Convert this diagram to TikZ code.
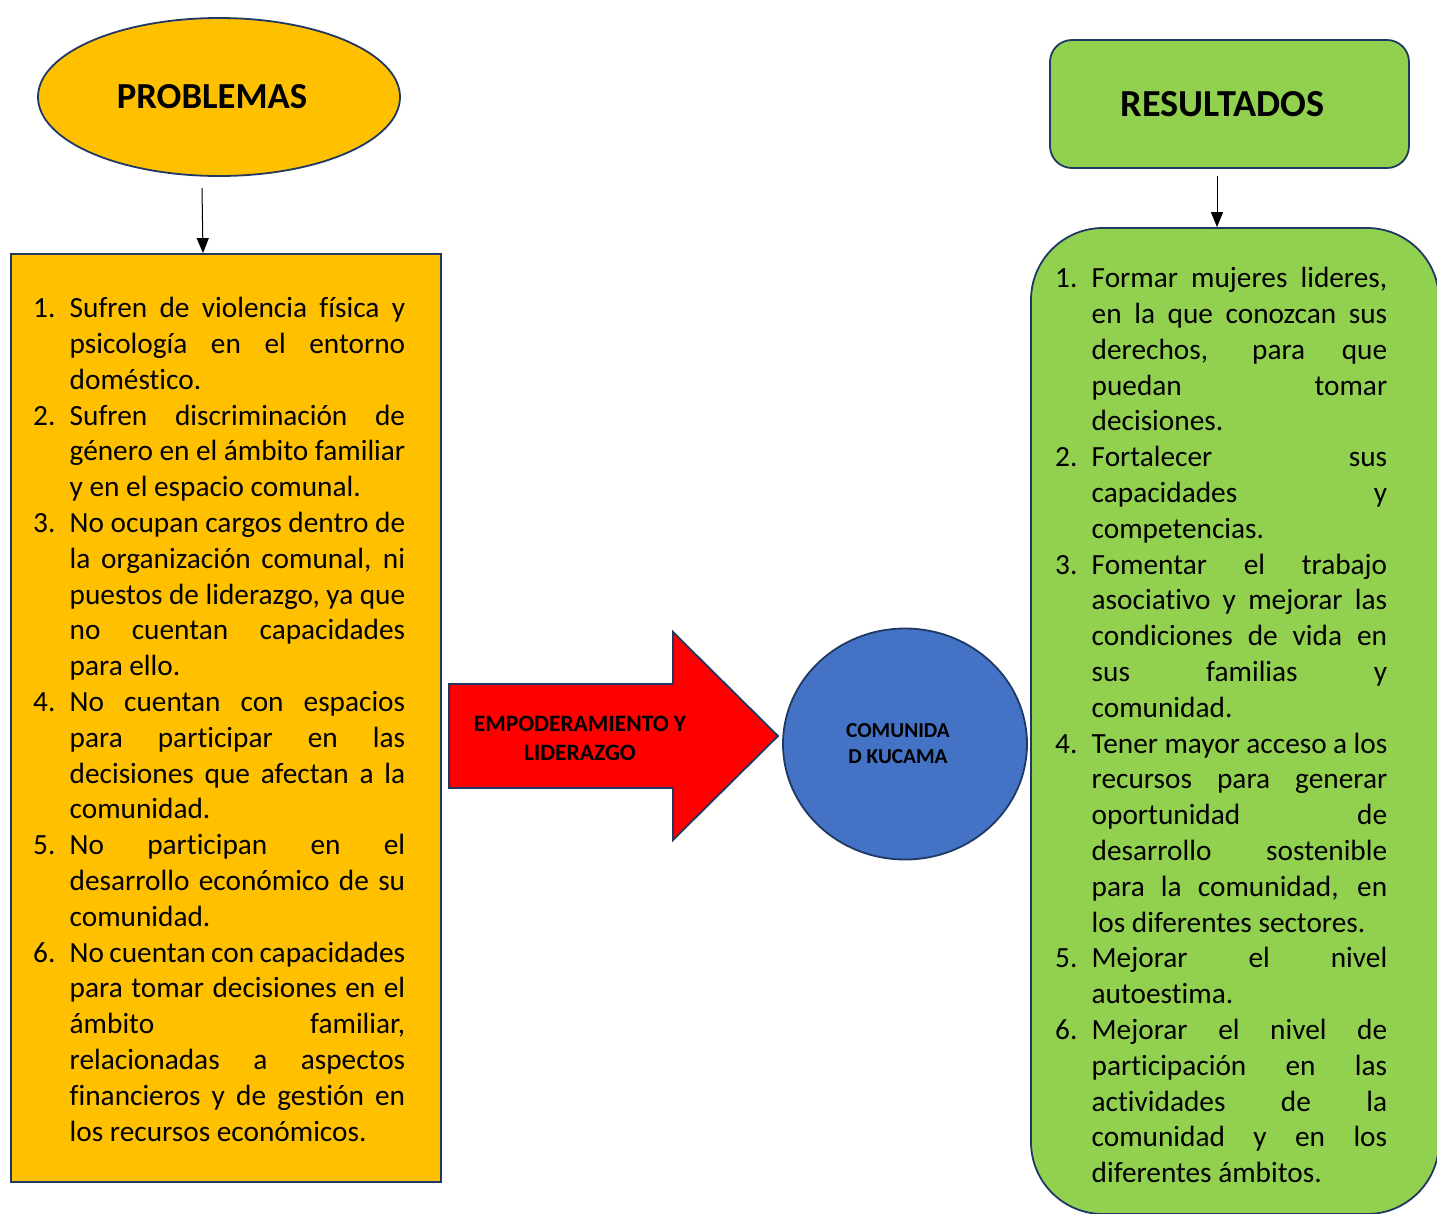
\documentclass[tikz,border=0pt]{standalone}
\usepackage{fontspec}
\setmainfont[Ligatures=CommonOff]{Carlito}
\usetikzlibrary{arrows.meta, positioning, shapes.geometric}
\usepackage{xcolor}
\definecolor{amber}{HTML}{FFC000}
\definecolor{leaf}{HTML}{92D050}
\definecolor{ocean}{HTML}{4472C4}
\definecolor{navy}{HTML}{203864}
\newlength{\colw}
% one line of a numbered list: stretched to the column, or left as is
\newcommand{\jl}[2]{\strut\makebox[36.5pt][l]{#1}\makebox[\colw][s]{#2}}
\newcommand{\lastl}[2]{\strut\makebox[36.5pt][l]{#1}\makebox[\colw][l]{#2}}

\begin{document}
\begin{tikzpicture}[
        x=1pt, y=-1pt,
        font=\fontsize{29.3}{35.8}\selectfont,
        outline/.style={draw=navy, line width=1.8pt},
        title/.style={outline, font=\fontsize{#1}{44}\selectfont\bfseries},
        listtext/.style={anchor=north west, inner sep=0pt, align=left},
        >={Triangle[length=15pt, width=12pt]}
      ]
        \useasboundingbox (0,0) rectangle (1437,1213);
        \clip (0,0) rectangle (1437,1213);

        % left column
        \node[title=36.7, ellipse, fill=amber, minimum width=362, minimum height=158, inner sep=0pt] (prob) at (219,97) {\hspace*{-14pt}PROBLEMAS};
        \node[outline, fill=amber, minimum width=430, minimum height=928, inner sep=0pt] (problist) at (226,718) {};
        \node[listtext] (problems) at (33,292.5) {\global\colw=335.5pt%
          \jl{1.}{Sufren de violencia física y}\\
          \jl{}{psicología en el entorno}\\
          \lastl{}{doméstico.}\\
          \jl{2.}{Sufren discriminación de}\\
          \jl{}{género en el ámbito familiar}\\
          \lastl{}{y en el espacio comunal.}\\
          \jl{3.}{No ocupan cargos dentro de}\\
          \jl{}{la organización comunal, ni}\\
          \jl{}{puestos de liderazgo, ya que}\\
          \jl{}{no cuentan capacidades}\\
          \lastl{}{para ello.}\\
          \jl{4.}{No cuentan con espacios}\\
          \jl{}{para participar en las}\\
          \jl{}{decisiones que afectan a la}\\
          \lastl{}{comunidad.}\\
          \jl{5.}{No participan en el}\\
          \jl{}{desarrollo económico de su}\\
          \lastl{}{comunidad.}\\
          \jl{6.}{No cuentan con capacidades}\\
          \jl{}{para tomar decisiones en el}\\
          \jl{}{ámbito familiar,}\\
          \jl{}{relacionadas a aspectos}\\
          \jl{}{financieros y de gestión en}\\
          \lastl{}{los recursos económicos.}};

        % middle
        \draw[outline, fill=red] (449,684) -- (673,684) -- (673,632) -- (778,736) -- (673,840) -- (673,788) -- (449,788) -- cycle;
        \node[font=\fontsize{23.5}{29}\selectfont\bfseries, align=center] (empower) at (580,738) {EMPODERAMIENTO Y\\LIDERAZGO};
        \node[outline, ellipse, fill=ocean, minimum width=244, minimum height=231, font=\fontsize{21.3}{26}\selectfont\bfseries, align=center] (kucama) at (905,744) {\hspace*{-14pt}COMUNIDA\\\hspace*{-14pt}D KUCAMA};

        % right column
        \node[title=38.2, rounded corners=22pt, fill=leaf, minimum width=359, minimum height=128] (resbox) at (1229.5,104) {\hspace*{-14pt}RESULTADOS};
        \node[outline, rounded corners=72pt, fill=leaf, minimum width=408, minimum height=986, inner sep=0pt] (reslist) at (1235,721) {};
        \node[listtext] (results) at (1055,262.5) {\global\colw=295.5pt%
          \jl{1.}{Formar mujeres lideres,}\\
          \jl{}{en la que conozcan sus}\\
          \jl{}{derechos, para que}\\
          \jl{}{puedan tomar}\\
          \lastl{}{decisiones.}\\
          \jl{2.}{Fortalecer sus}\\
          \jl{}{capacidades y}\\
          \lastl{}{competencias.}\\
          \jl{3.}{Fomentar el trabajo}\\
          \jl{}{asociativo y mejorar las}\\
          \jl{}{condiciones de vida en}\\
          \jl{}{sus familias y}\\
          \lastl{}{comunidad.}\\
          \jl{4.}{Tener mayor acceso a los}\\
          \jl{}{recursos para generar}\\
          \jl{}{oportunidad de}\\
          \jl{}{desarrollo sostenible}\\
          \jl{}{para la comunidad, en}\\
          \lastl{}{los diferentes sectores.}\\
          \jl{5.}{Mejorar el nivel}\\
          \lastl{}{autoestima.}\\
          \jl{6.}{Mejorar el nivel de}\\
          \jl{}{participación en las}\\
          \jl{}{actividades de la}\\
          \jl{}{comunidad y en los}\\
          \lastl{}{diferentes ámbitos.}};

        \draw[->, line width=1pt] ([xshift=-17pt, yshift=-11pt]prob.south) -- ([xshift=-23pt]problist.north);
        \draw[->, line width=1pt] ([xshift=-12.5pt, yshift=-7pt]resbox.south) -- ([xshift=-18pt]reslist.north);
    \end{tikzpicture}
\end{document}
